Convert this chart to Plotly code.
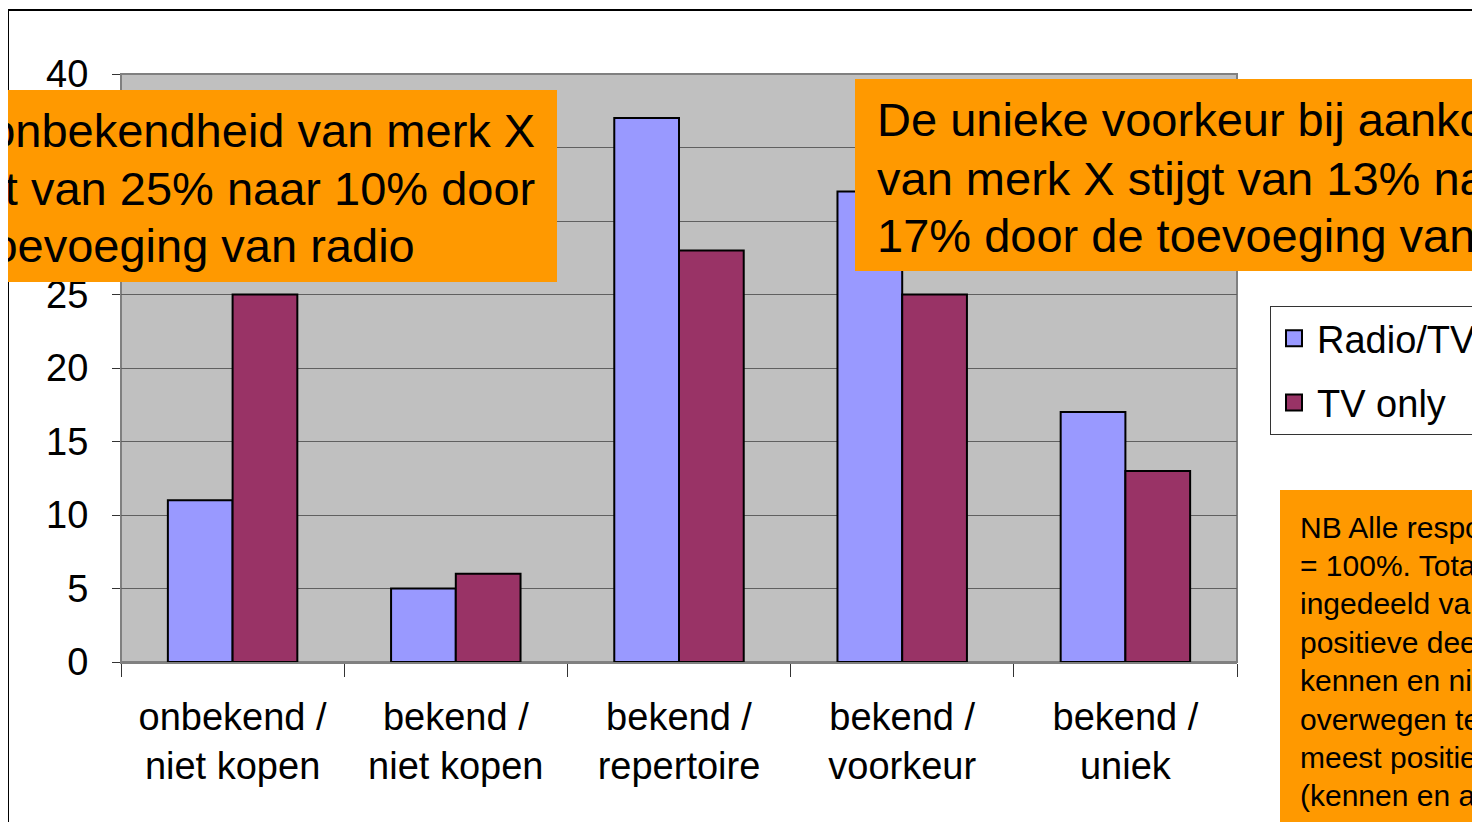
import plotly.graph_objects as go

# ---- data ----
categories = ["onbekend /<br>niet kopen", "bekend /<br>niet kopen", "bekend /<br>repertoire",
              "bekend /<br>voorkeur", "bekend /<br>uniek"]
radio_tv = [11, 5, 37, 32, 17]
tv_only = [25, 6, 28, 25, 13]
series_names = ["Radio/TV", "TV only"]
series_colors = ["#9999FF", "#993366"]
y_ticks = [0, 5, 10, 15, 20, 25, 30, 35, 40]

box1_lines = ["De onbekendheid van merk X", "daalt van 25% naar 10% door", "de toevoeging van radio"]
box2_lines = ["De unieke voorkeur bij aankoop", "van merk X stijgt van 13% naar", "17% door de toevoeging van radio"]
nb_lines = ["NB Alle respondenten", "= 100%. Totaal is", "ingedeeld van minst", "positieve deel (niet",
            "kennen en niet", "overwegen te kopen) tot", "meest positieve", "(kennen en alleen dat",
            "merk kopen)."]

# ---- geometry (page pixels; the page body has an 8px margin) ----
OFF = 8
PAGE_W, PAGE_H = 1480, 830
W, H = PAGE_W - OFF, PAGE_H - 2 * OFF
L, R, T, B = 121, 1237, 74, 662          # plot area in page pixels
def px(x):
    return (x - L) / (R - L)
def py(y):
    return (B - y) / (B - T)

FONT = "Liberation Sans, Arial, sans-serif"
ORANGE = "#FF9900"

fig = go.Figure()
for name, vals, col in zip(series_names, [radio_tv, tv_only], series_colors):
    fig.add_trace(go.Bar(x=categories, y=vals, name=name, showlegend=False,
                         marker=dict(color=col, line=dict(color="black", width=2))))
# legend entries (square swatches)
for i, (name, col) in enumerate(zip(series_names, series_colors)):
    fig.add_trace(go.Scatter(x=[None], y=[None], mode="markers", name=name, legendgroup=str(i),
                             marker=dict(symbol="square", size=16, color=col,
                                         line=dict(color="black", width=2))))

shapes = [
    # outer frame
    dict(type="rect", xref="paper", yref="paper", x0=px(8), x1=px(1550), y0=py(900), y1=py(10),
         fillcolor="white", line=dict(color="black", width=2), layer="below"),
    # plot area
    dict(type="rect", xref="paper", yref="paper", x0=0, x1=1, y0=0, y1=1,
         fillcolor="#C0C0C0", line=dict(color="#808080", width=2), layer="below"),
    # orange boxes
    dict(type="rect", xref="paper", yref="paper", x0=px(-20), x1=px(557), y0=py(282), y1=py(90),
         fillcolor=ORANGE, line=dict(width=0), layer="above"),
    dict(type="rect", xref="paper", yref="paper", x0=px(855), x1=px(1550), y0=py(271), y1=py(79),
         fillcolor=ORANGE, line=dict(width=0), layer="above"),
    dict(type="rect", xref="paper", yref="paper", x0=px(1280), x1=px(1550), y0=py(900), y1=py(490),
         fillcolor=ORANGE, line=dict(width=0), layer="above"),
]

annotations = []
box1_right = [537, 537, 417]
box1_y = [130, 188, 245]
for t, xr, yc in zip(box1_lines, box1_right, box1_y):
    annotations.append(dict(text=t, xref="paper", yref="paper", x=px(xr), y=py(yc),
                            xanchor="right", yanchor="middle", showarrow=False,
                            font=dict(family=FONT, size=47, color="black")))
box2_y = [120, 178, 236]
for t, yc in zip(box2_lines, box2_y):
    annotations.append(dict(text=t, xref="paper", yref="paper", x=px(875), y=py(yc),
                            xanchor="left", yanchor="middle", showarrow=False,
                            font=dict(family=FONT, size=47, color="black")))
for i, t in enumerate(nb_lines):
    annotations.append(dict(text=t, xref="paper", yref="paper", x=px(1298), y=py(527 + i * 38.4),
                            xanchor="left", yanchor="middle", showarrow=False,
                            font=dict(family=FONT, size=30, color="black")))

fig.update_layout(
    width=W, height=H, autosize=False,
    margin=dict(l=L - OFF, r=W - (R - OFF), t=T - OFF, b=H - (B - OFF), pad=0, autoexpand=False),
    paper_bgcolor="white", plot_bgcolor="#C0C0C0",
    barmode="group", bargap=0.42, bargroupgap=0,
    font=dict(family=FONT, size=38, color="black"),
    showlegend=True,
    legend=dict(x=px(1270), y=py(306), xanchor="left", yanchor="top",
                bgcolor="white", bordercolor="#333", borderwidth=1,
                font=dict(family=FONT, size=38, color="black"),
                traceorder="grouped", tracegroupgap=12, itemwidth=36, itemsizing="trace"),
    xaxis=dict(type="category", showgrid=False, showline=True, linecolor="#808080", linewidth=2,
               ticks="outside", tickson="boundaries", ticklen=13, tickcolor="#333",
               tickfont=dict(family=FONT, size=38, color="black"), ticklabelstandoff=20,
               fixedrange=True),
    yaxis=dict(range=[0, 40], tickvals=y_ticks, showgrid=True, gridcolor="#606060", gridwidth=1,
               showline=True, linecolor="#808080", linewidth=1, zeroline=False,
               ticks="outside", ticklen=8, tickcolor="#333",
               tickfont=dict(family=FONT, size=38, color="black"), ticklabelstandoff=16,
               fixedrange=True),
    shapes=shapes,
    annotations=annotations,
)

fig.write_html("out.html")
